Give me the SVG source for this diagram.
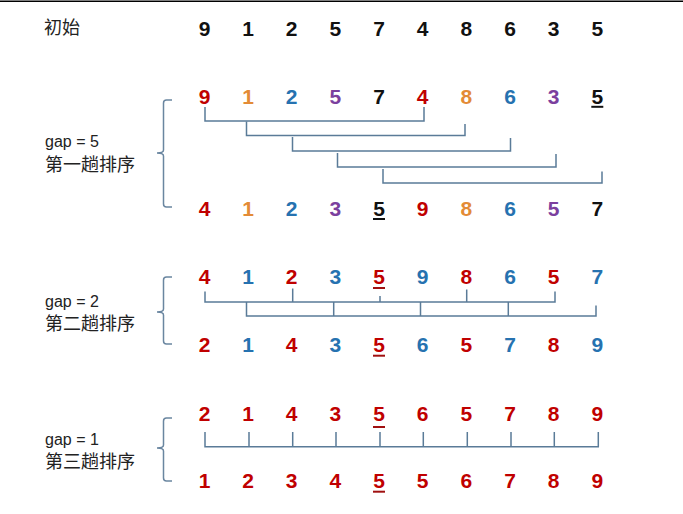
<svg xmlns="http://www.w3.org/2000/svg" width="683" height="514" viewBox="0 0 683 514">
<style>
.d{font-family:"Liberation Sans",Arial,sans-serif;font-weight:bold;font-size:21px;text-anchor:middle}
.k{fill:#111}.r{fill:#c00000}.o{fill:#e38b36}.b{fill:#2672b0}.p{fill:#7b3f9e}
.lab{font-family:"Liberation Sans","Noto Sans CJK SC",sans-serif;font-size:16px;fill:#222}
.cjk{font-family:"Noto Sans CJK SC",sans-serif;font-size:18px;fill:#222}
.ln{fill:none;stroke:#5a7b98;stroke-width:1.5}
.br{fill:none;stroke:#6a86a0;stroke-width:1.5}
.ul{stroke-width:2}
</style>
<rect width="683" height="514" fill="#fff"/>
<line x1="0" y1="1.2" x2="683" y2="1.2" stroke="#000" stroke-width="1.6"/>

<g id="row0">
<text class="cjk" x="44" y="34">初始</text>
<g class="d k">
<text x="204.5" y="35.5">9</text><text x="248" y="35.5">1</text><text x="291.7" y="35.5">2</text><text x="335.3" y="35.5">5</text><text x="379" y="35.5">7</text><text x="422.7" y="35.5">4</text><text x="466.3" y="35.5">8</text><text x="510" y="35.5">6</text><text x="553.7" y="35.5">3</text><text x="597.3" y="35.5">5</text>
</g>
</g>

<g id="gap5">
<text class="lab" x="45" y="146.5">gap = 5</text>
<text class="cjk" x="45" y="171">第一趟排序</text>
<g class="d">
<text class="r" x="204.5" y="104">9</text><text class="o" x="248" y="104">1</text><text class="b" x="291.7" y="104">2</text><text class="p" x="335.3" y="104">5</text><text class="k" x="379" y="104">7</text><text class="r" x="422.7" y="104">4</text><text class="o" x="466.3" y="104">8</text><text class="b" x="510" y="104">6</text><text class="p" x="553.7" y="104">3</text><text class="k" x="597.3" y="104">5</text>
<text class="r" x="204.5" y="216">4</text><text class="o" x="248" y="216">1</text><text class="b" x="291.7" y="216">2</text><text class="p" x="335.3" y="216">3</text><text class="k" x="379" y="216">5</text><text class="r" x="422.7" y="216">9</text><text class="o" x="466.3" y="216">8</text><text class="b" x="510" y="216">6</text><text class="p" x="553.7" y="216">5</text><text class="k" x="597.3" y="216">7</text>
</g>
<line class="ul" x1="591.3" y1="106.8" x2="603.3" y2="106.8" stroke="#111"/>
<line class="ul" x1="373" y1="219" x2="385" y2="219" stroke="#111"/>
</g>

<g id="gap2">
<text class="lab" x="45" y="307">gap = 2</text>
<text class="cjk" x="45" y="330">第二趟排序</text>
<g class="d">
<text class="r" x="204.5" y="284">4</text><text class="b" x="248" y="284">1</text><text class="r" x="291.7" y="284">2</text><text class="b" x="335.3" y="284">3</text><text class="r" x="379" y="284">5</text><text class="b" x="422.7" y="284">9</text><text class="r" x="466.3" y="284">8</text><text class="b" x="510" y="284">6</text><text class="r" x="553.7" y="284">5</text><text class="b" x="597.3" y="284">7</text>
<text class="r" x="204.5" y="352">2</text><text class="b" x="248" y="352">1</text><text class="r" x="291.7" y="352">4</text><text class="b" x="335.3" y="352">3</text><text class="r" x="379" y="352">5</text><text class="b" x="422.7" y="352">6</text><text class="r" x="466.3" y="352">5</text><text class="b" x="510" y="352">7</text><text class="r" x="553.7" y="352">8</text><text class="b" x="597.3" y="352">9</text>
</g>
<line class="ul" x1="373" y1="288" x2="385" y2="288" stroke="#a01010"/>
<line class="ul" x1="373" y1="355.7" x2="385" y2="355.7" stroke="#a01010"/>
</g>

<g id="gap1">
<text class="lab" x="45" y="445">gap = 1</text>
<text class="cjk" x="45" y="468">第三趟排序</text>
<g class="d r">
<text x="204.5" y="421">2</text><text x="248" y="421">1</text><text x="291.7" y="421">4</text><text x="335.3" y="421">3</text><text x="379" y="421">5</text><text x="422.7" y="421">6</text><text x="466.3" y="421">5</text><text x="510" y="421">7</text><text x="553.7" y="421">8</text><text x="597.3" y="421">9</text>
<text x="204.5" y="488">1</text><text x="248" y="488">2</text><text x="291.7" y="488">3</text><text x="335.3" y="488">4</text><text x="379" y="488">5</text><text x="422.7" y="488">5</text><text x="466.3" y="488">6</text><text x="510" y="488">7</text><text x="553.7" y="488">8</text><text x="597.3" y="488">9</text>
</g>
<line class="ul" x1="373" y1="427" x2="385" y2="427" stroke="#a01010"/>
<line class="ul" x1="373" y1="491.7" x2="385" y2="491.7" stroke="#a01010"/>
</g>

<g id="connectors">
<path class="br" d="M172,100 H166.5 Q163.5,100 163.5,103 V150 Q163.5,153 157,153 Q163.5,153 163.5,156 V204 Q163.5,207 166.5,207 H172"/>
<path class="br" d="M172,277 H166.5 Q163.5,277 163.5,280 V309 Q163.5,312 157,312 Q163.5,312 163.5,315 V341 Q163.5,344 166.5,344 H172"/>
<path class="br" d="M172,418 H166.5 Q163.5,418 163.5,421 V445 Q163.5,448 157,448 Q163.5,448 163.5,451 V478 Q163.5,481 166.5,481 H172"/>

<path class="ln" d="M205,107 V121 H424 V107"/>
<path class="ln" d="M246.5,121.5 V135.5 H465 V124"/>
<path class="ln" d="M292.5,137 V151 H510.5 V138"/>
<path class="ln" d="M337.5,153 V167 H556 V154"/>
<path class="ln" d="M383,169 V183 H602 V171.5"/>

<path class="ln" d="M205,291.5 V302 H555 V291.5 M292.7,288.5 V302 M380,296 V302 M466.7,289.5 V302"/>
<path class="ln" d="M246.5,302 V316 H596 V305.5 M333.7,302 V316 M420.5,302 V316 M508.3,302 V316"/>

<path class="ln" d="M205,432 V446.7 H598.3 V432 M249,432 V446.7 M292.7,432 V446.7 M336,432 V446.7 M380,432 V446.7 M423.3,432 V446.7 M467.3,432 V446.7 M511,432 V446.7 M554.3,432 V446.7"/>
</g>
</svg>
